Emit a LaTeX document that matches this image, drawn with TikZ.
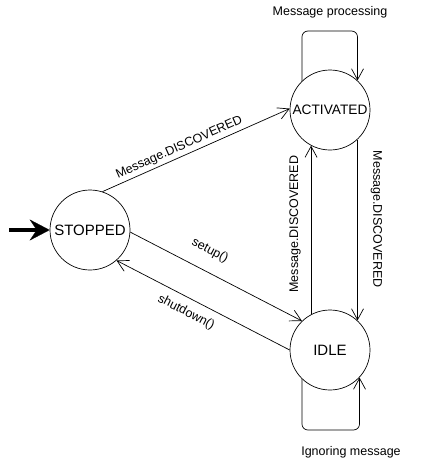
\documentclass[tikz,border=0pt]{standalone}
\usepackage{fontspec}
\setmainfont{Liberation Sans}
\usetikzlibrary{arrows.meta}
\tikzset{
  state/.style={draw, circle, minimum size=80pt, inner sep=0pt, line width=0.7pt,
    font=\fontsize{15}{18}\selectfont},
  trans/.style={line width=0.7pt, -{Straight Barb[length=11pt,width=12pt]}},
  tlabel/.style={font=\fontsize{12.5}{15}\selectfont, inner sep=1pt},
  initarrow/.style={line width=3.5pt, -{Stealth[length=20pt,width=21pt,inset=7pt,line width=0.2pt]}}
}
\begin{document}
\begin{tikzpicture}[x=1pt,y=-1pt]
                \useasboundingbox (0,0) rectangle (430,461);

                % Drawing state STOPPED
                \node[state] (stop) at (90,230) {STOPPED};%

                % Drawing state ACTIVATED
                \node[state, font=\fontsize{13.7}{16}\selectfont] (act) at (330,110) {ACTIVATED};%

                % Drawing state IDLE
                \node[state] (idle) at (330,350) {IDLE};%

                % Marking initial state
                \coordinate (init) at (9,230);%
                \draw[initarrow] (init) -- (stop.west);%

                % Drawing transition STOPPED -> ACTIVATED
                \draw[trans] (stop.72) -- node[tlabel, pos=0.43, sloped, above=2pt] (lblDisc) {Message.DISCOVERED} (act.178);%

                % Drawing transition STOPPED -> IDLE
                \draw[trans] (stop.-3) -- node[tlabel, pos=0.41, sloped, above=13pt] (lblSetup) {setup()} (idle.134);%

                % Drawing transition IDLE -> STOPPED
                \draw[trans] (idle.180) -- node[tlabel, pos=0.56, sloped, below=7pt] (lblShut) {shutdown()} (stop.-49);%

                % Drawing transition IDLE -> ACTIVATED
                \draw[trans] (idle.118) -- node[tlabel, pos=0.535, sloped, above=9pt] (lblUp) {Message.DISCOVERED} (act.242);%

                % Drawing transition ACTIVATED -> IDLE
                \draw[trans] (act.-47.5) -- node[tlabel, pos=0.44, sloped, above=12pt] (lblDown) {Message.DISCOVERED} (idle.47.5);%

                % Drawing loop on ACTIVATED
                \coordinate (actTop) at (330,31);%
                \draw[trans, rounded corners=6pt] (act.134) |- (actTop) -| (act.47.5);%
                \node[tlabel] (lblProc) at (330,12) {Message processing};%

                % Drawing loop on IDLE
                \coordinate (idleBot) at (330,430);%
                \draw[trans, rounded corners=6pt] (idle.226) |- (idleBot) -| (idle.-43);%
                \node[tlabel] (lblIgn) at (351,452) {Ignoring message};%
\end{tikzpicture}
\end{document}
